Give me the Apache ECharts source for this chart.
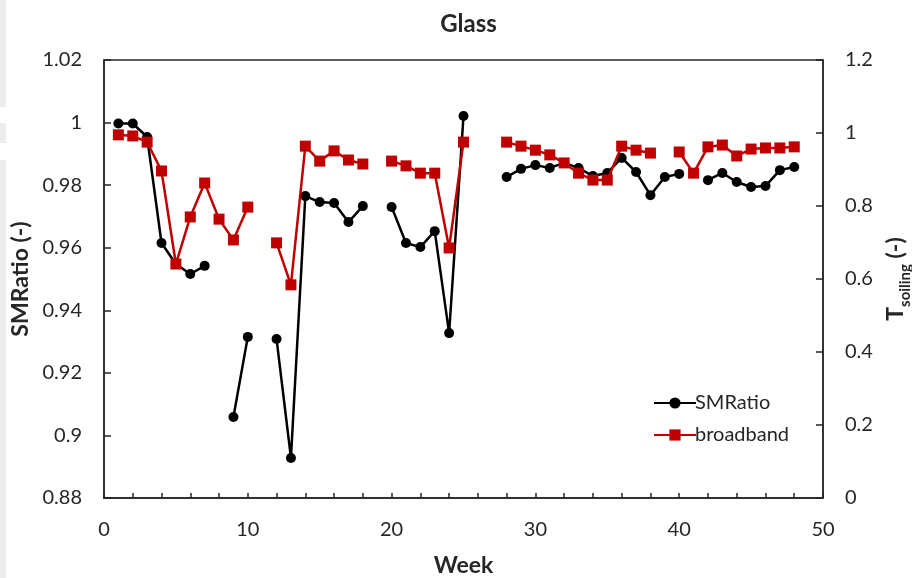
<!DOCTYPE html>
<html>
<head>
<meta charset="utf-8">
<script src="https://cdn.jsdelivr.net/npm/echarts@6/dist/echarts.min.js"></script>
<style>html,body{margin:0;padding:0;background:#fff;}#c{width:912px;height:578px;}</style>
</head>
<body>
<div id="c"></div>
<script>
const weeks = [1,2,3,4,5,6,7,8,9,10,11,12,13,14,15,16,17,18,19,20,21,22,23,24,25,26,27,28,29,30,31,32,33,34,35,36,37,38,39,40,41,42,43,44,45,46,47,48];
const smRatio = [0.9997,0.9997,0.9954,0.9615,0.9548,0.9516,0.9542,null,0.9059,0.9315,null,0.9308,0.8928,0.9765,0.9746,0.9743,0.9682,0.9733,null,0.9730,0.9615,0.9602,0.9653,0.9327,1.0021,null,null,0.9826,0.9852,0.9864,0.9855,0.9871,0.9855,0.9829,0.9839,0.9887,0.9842,0.9768,0.9826,0.9836,null,0.9816,0.9839,0.9810,0.9794,0.9797,0.9848,0.9858];
const broadband = [0.995,0.992,0.975,0.896,0.641,0.770,0.863,0.764,0.707,0.797,null,0.699,0.584,0.964,0.923,0.951,0.926,0.915,null,0.923,0.910,0.890,0.890,0.685,0.975,null,null,0.975,0.964,0.953,0.940,0.918,0.890,0.871,0.871,0.964,0.953,0.945,null,0.948,0.890,0.962,0.967,0.937,0.956,0.959,0.959,0.962];
const xTicks = [0,10,20,30,40,50];
const leftTicks = [0.88,0.9,0.92,0.94,0.96,0.98,1,1.02];
const rightTicks = [0,0.2,0.4,0.6,0.8,1,1.2];

const toPairs = vals => weeks.map((w,i) => [w, vals[i] === null ? '-' : vals[i]]);
const FONT = 'Lato';
const TXT = '#262626';
const AX = '#262626';

const chart = echarts.init(document.getElementById('c'), null, {renderer:'canvas'});
chart.setOption({
  animation: false,
  backgroundColor: '#fff',
  textStyle: {fontFamily: FONT, color: TXT},
  title: {text: 'Glass', left: 463.5, textAlign: 'center', top: 7,
    textStyle: {fontFamily: FONT, fontWeight: 'bold', fontSize: 24, color: TXT}},
  graphic: [
    {type:'rect', left:0, top:0, shape:{width:6, height:107}, style:{fill:'#ececec'}, silent:true},
    {type:'rect', left:0, top:123, shape:{width:6, height:20}, style:{fill:'#ececec'}, silent:true},
    {type:'rect', left:0, top:160, shape:{width:6, height:418}, style:{fill:'#ececec'}, silent:true}
  ],
  grid: {left:104, right:89, top:60, bottom:80, show:true, borderColor:AX, borderWidth:1.5,
    containLabel:false, outerBoundsMode:'none'},
  legend: {
    orient:'vertical', left:648, top:388, itemWidth:42, itemHeight:14, itemGap:12,
    textStyle:{fontFamily:FONT, fontSize:20, color:TXT, padding:[0,0,0,-6]},
    data:['SMRatio','broadband']
  },
  xAxis: {
    type:'value', min:0, max:50, interval:10,
    name:'Week', nameLocation:'middle', nameGap:56,
    nameTextStyle:{fontFamily:FONT, fontWeight:'bold', fontSize:23, color:TXT},
    axisLine:{show:true, lineStyle:{color:AX, width:1.5}},
    axisTick:{show:true, inside:true, length:5, lineStyle:{color:AX, width:1.5}},
    minorTick:{show:true, splitNumber:5, length:5, lineStyle:{color:AX, width:1.5}},
    splitLine:{show:false},
    axisLabel:{fontFamily:FONT, fontSize:20, color:TXT, margin:22,
      formatter: v => xTicks.includes(v) ? String(v) : ''}
  },
  yAxis: [
    {
      type:'value', min:0.88, max:1.02, interval:0.02, position:'left',
      name:'SMRatio (-)', nameLocation:'middle', nameGap:58, nameRotate:90,
      nameTextStyle:{fontFamily:FONT, fontWeight:'bold', fontSize:23, color:TXT},
      axisLine:{show:true, lineStyle:{color:AX, width:1.5}},
      axisTick:{show:true, inside:true, length:7, lineStyle:{color:AX, width:1.5}},
      splitLine:{show:false},
      axisLabel:{fontFamily:FONT, fontSize:20, color:TXT, margin:22,
        formatter: v => { const t = leftTicks.find(x => Math.abs(x - v) < 1e-6); return t === undefined ? '' : String(t); }}
    },
    {
      type:'value', min:0, max:1.2, interval:0.2, position:'right',
      name:'{a|T}{b|soiling}{a| (-)}', nameLocation:'middle', nameGap:47, nameRotate:90,
      nameTextStyle:{fontFamily:FONT, fontWeight:'bold', color:TXT,
        rich:{
          a:{fontFamily:FONT, fontWeight:'bold', fontSize:23, color:TXT, verticalAlign:'bottom', lineHeight:28},
          b:{fontFamily:FONT, fontWeight:'bold', fontSize:15, color:TXT, verticalAlign:'bottom', lineHeight:28, padding:[0,0,-6,0]}
        }},
      axisLine:{show:true, lineStyle:{color:AX, width:1.5}},
      axisTick:{show:true, inside:true, length:7, lineStyle:{color:AX, width:1.5}},
      splitLine:{show:false},
      axisLabel:{fontFamily:FONT, fontSize:20, color:TXT, margin:22,
        formatter: v => { const t = rightTicks.find(x => Math.abs(x - v) < 1e-6); return t === undefined ? '' : String(t); }}
    }
  ],
  series: [
    {
      name:'SMRatio', type:'line', yAxisIndex:0, data: toPairs(smRatio), connectNulls:false,
      symbol:'circle', symbolSize:10, showAllSymbol:true,
      lineStyle:{color:'#000000', width:2.5}, itemStyle:{color:'#000000'}, z:2
    },
    {
      name:'broadband', type:'line', yAxisIndex:1, data: toPairs(broadband), connectNulls:false,
      symbol:'rect', symbolSize:11, showAllSymbol:true,
      lineStyle:{color:'#C00000', width:2.5}, itemStyle:{color:'#C00000'}, z:3
    }
  ]
});
</script>
</body>
</html>
